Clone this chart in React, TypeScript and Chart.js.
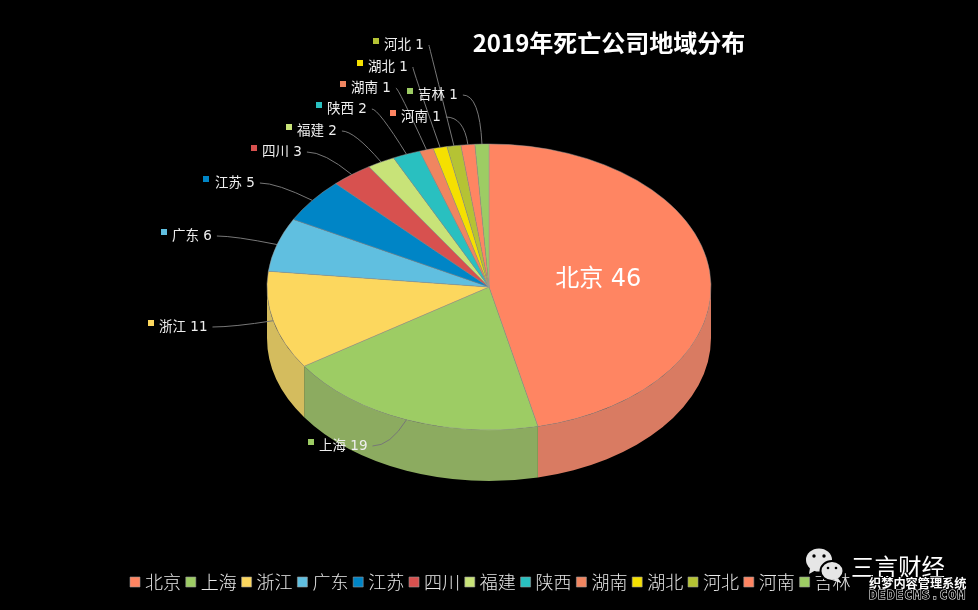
import React, { useEffect, useRef } from "react";
import { Chart, registerables } from "chart.js";

Chart.register(...registerables);

const categories = ["北京", "上海", "浙江", "广东", "江苏", "四川", "福建", "陕西", "湖南", "湖北", "河北", "河南", "吉林"];
const companyCounts = [46, 19, 11, 6, 5, 3, 2, 2, 1, 1, 1, 1, 1];
const topColors = ["#FF8562", "#9DCC64", "#FCD75E", "#60BFE0", "#0085C6", "#D7514F", "#C8E378", "#29C0C0", "#F08560", "#F5E000", "#B5C334", "#FF8562", "#9DCC64"];
const wallColors = ["#D97B62", "#8CAB60", "#D4BC5E", "#58A0BA", "#0A70A2", "#B04E4C", "#A8BC6C", "#2FA0A0", "#C97B60", "#CDBD10", "#9AA53A", "#D97B62", "#8CAB60"];
const chartTitle = "2019年死亡公司地域分布";

const CX = 489;
const CY = 287;
const RX = 222;
const RY = 143;
const DEPTH = 51;
const FONT = '"DejaVu Sans", "Noto Sans CJK SC", sans-serif';

// Label boxes only: leader ends are computed from each slice's own angle.
const labelBoxes: Array<{ mx: number; tx: number; ty: number } | null> = [
  null,
  { mx: 308, tx: 319, ty: 446 },
  { mx: 148, tx: 159, ty: 327 },
  { mx: 161, tx: 172, ty: 236 },
  { mx: 203, tx: 215, ty: 183 },
  { mx: 251, tx: 262, ty: 152 },
  { mx: 286, tx: 297, ty: 131 },
  { mx: 316, tx: 327, ty: 109 },
  { mx: 340, tx: 351, ty: 88 },
  { mx: 357, tx: 368, ty: 67 },
  { mx: 373, tx: 384, ty: 45 },
  { mx: 390, tx: 401, ty: 117 },
  { mx: 407, tx: 418, ty: 95 },
];

const pie3d = {
  id: "pie3d",
  afterLayout(chart: any) {
    const a = chart.chartArea;
    a.left = CX - RX;
    a.right = CX + RX;
    a.top = CY - RX;
    a.bottom = CY + RX;
    a.width = RX * 2;
    a.height = RX * 2;
    chart.titleBlock.left = 240;
    chart.titleBlock.right = 978;
  },
  beforeDatasetsDraw(chart: any) {
    const ctx = chart.ctx;
    const arcs = chart.getDatasetMeta(0).data;
    ctx.save();
    arcs.forEach((arc: any, i: number) => {
      const twoPi = Math.PI * 2;
      for (const shift of [0, -twoPi]) {
        const a1 = Math.max(arc.startAngle + shift, 0);
        const a2 = Math.min(arc.endAngle + shift, Math.PI);
        if (a2 <= a1) continue;
        ctx.beginPath();
        ctx.ellipse(CX, CY, RX, RY, 0, a1, a2);
        ctx.ellipse(CX, CY + DEPTH, RX, RY, 0, a2, a1, true);
        ctx.closePath();
        ctx.fillStyle = wallColors[i];
        ctx.fill();
      }
    });
    ctx.restore();
    ctx.save();
    ctx.translate(CX, CY);
    ctx.scale(1, RY / RX);
    ctx.translate(-CX, -CY);
  },
  afterDatasetsDraw(chart: any) {
    const ctx = chart.ctx;
    ctx.restore();
    const arcs = chart.getDatasetMeta(0).data;
    ctx.save();
    ctx.textBaseline = "middle";
    arcs.forEach((arc: any, i: number) => {
      const box = labelBoxes[i];
      const text = `${categories[i]} ${companyCounts[i]}`;
      if (!box) {
        ctx.fillStyle = "#ffffff";
        ctx.font = `24px ${FONT}`;
        ctx.textAlign = "center";
        const mid = (arc.startAngle + arc.endAngle) / 2;
        ctx.fillText(text, CX + Math.cos(mid) * RX * 0.495, CY + Math.sin(mid) * RY * 0.495 + 1);
        return;
      }
      ctx.textAlign = "left";
      ctx.font = `13.5px ${FONT}`;
      ctx.fillStyle = topColors[i];
      ctx.fillRect(box.mx, box.ty - 7, 6, 6);
      ctx.fillStyle = "#eeeeee";
      ctx.fillText(text, box.tx, box.ty);
      const w = ctx.measureText(text).width;
      const sx = box.tx + w + 5;
      const sy = box.ty;
      const mid = (arc.startAngle + arc.endAngle) / 2;
      const ex = CX + Math.cos(mid) * RX;
      const ey = CY + Math.sin(mid) * RY;
      const t = (sy - ey) / (Math.sin(mid) * RY);
      const qx = ex + Math.cos(mid) * RX * t;
      ctx.beginPath();
      ctx.moveTo(sx, sy);
      ctx.quadraticCurveTo(qx, sy, ex, ey);
      ctx.strokeStyle = "#777777";
      ctx.lineWidth = 1;
      ctx.stroke();
    });
    ctx.restore();
  },
  afterDraw(chart: any) {
    const ctx = chart.ctx;
    ctx.save();
    // WeChat mark
    ctx.fillStyle = "#e6e6e6";
    ctx.beginPath();
    ctx.ellipse(819, 560, 13, 11.5, 0, 0, Math.PI * 2);
    ctx.fill();
    ctx.beginPath();
    ctx.moveTo(810, 568);
    ctx.lineTo(809, 574);
    ctx.lineTo(816, 570);
    ctx.fill();
    ctx.strokeStyle = "#000";
    ctx.lineWidth = 2;
    ctx.beginPath();
    ctx.ellipse(832, 571, 11.5, 10, 0, 0, Math.PI * 2);
    ctx.fill();
    ctx.stroke();
    ctx.beginPath();
    ctx.moveTo(838, 578);
    ctx.lineTo(841, 583);
    ctx.lineTo(832, 580);
    ctx.fill();
    ctx.fillStyle = "#000";
    for (const [x, y, r] of [[814, 556, 1.7], [824, 556, 1.7], [828, 568, 1.3], [836, 568, 1.3]]) {
      ctx.beginPath();
      ctx.arc(x, y, r, 0, Math.PI * 2);
      ctx.fill();
    }
    ctx.textAlign = "left";
    ctx.textBaseline = "middle";
    ctx.fillStyle = "#ffffff";
    ctx.font = '400 23.5px "Noto Sans CJK SC", sans-serif';
    ctx.fillText("三言财经", 851, 567);
    ctx.font = 'bold 12.2px "Noto Sans CJK SC", sans-serif';
    ctx.lineWidth = 2;
    ctx.strokeStyle = "#000";
    ctx.strokeText("织梦内容管理系统", 869, 583);
    ctx.fillText("织梦内容管理系统", 869, 583);
    ctx.font = 'bold 13px "DejaVu Sans Mono", monospace';
    (ctx as any).letterSpacing = "1px";
    ctx.lineWidth = 1;
    ctx.strokeStyle = "#fff";
    ctx.strokeText("DEDECMS.COM", 869, 596);
    ctx.fillStyle = "#000";
    ctx.fillText("DEDECMS.COM", 869, 596);
    ctx.restore();
  },
};

export default function App() {
  const ref = useRef<HTMLCanvasElement>(null);
  useEffect(() => {
    const chart = new Chart(ref.current as HTMLCanvasElement, {
      type: "pie",
      data: {
        labels: categories,
        datasets: [
          {
            data: companyCounts,
            backgroundColor: topColors,
            borderColor: "rgba(150,150,150,0.6)",
            borderWidth: 1,
            radius: RX,
            clip: false,
          } as any,
        ],
      },
      options: {
        responsive: false,
        animation: false,
        layout: { padding: { left: 6.6, bottom: 9 } },
        plugins: {
          tooltip: { enabled: false },
          title: {
            display: true,
            text: chartTitle,
            color: "#ffffff",
            font: { family: '"Noto Sans CJK SC", sans-serif', size: 24, weight: "bold" },
            padding: { top: 28, bottom: 0 },
          },
          legend: {
            display: true,
            position: "bottom",
            labels: {
              color: "#e8e8e8",
              font: { family: '"Noto Sans CJK SC", sans-serif', size: 18, weight: "300" },
              usePointStyle: true,
              pointStyle: "rect",
              boxWidth: 2,
              boxHeight: 10,
              padding: 8.8,
            },
          },
        },
      },
      plugins: [pie3d],
    } as any);
    return () => chart.destroy();
  }, []);
  return (
    <div style={{ position: "fixed", left: 0, top: 0, width: 978, height: 610, background: "#000", overflow: "hidden" }}>
      <canvas ref={ref} width={978} height={610} style={{ display: "block" }} />
    </div>
  );
}
